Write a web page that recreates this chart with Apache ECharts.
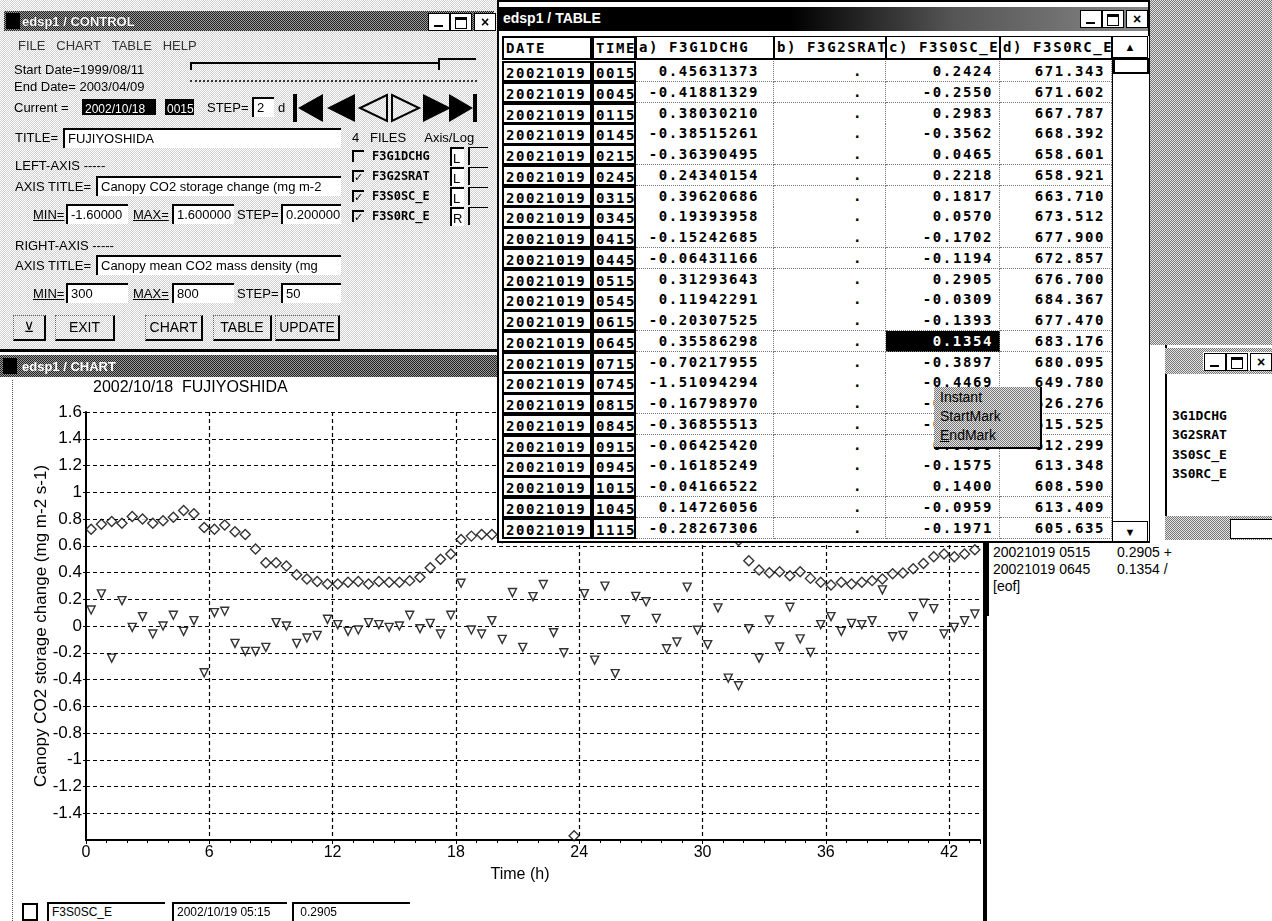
<!DOCTYPE html>
<html><head><meta charset="utf-8">
<script src="https://cdn.jsdelivr.net/npm/echarts/dist/echarts.min.js"></script>
<style>
html,body{margin:0;padding:0;width:1272px;height:921px;overflow:hidden;background:#fff;font-family:"Liberation Sans",Arial,sans-serif;color:#000;}
#chart{position:absolute;left:0;top:0;width:1272px;height:921px;}
.a{position:absolute;white-space:nowrap;}
.dk{background:repeating-conic-gradient(#222 0 25%,#9a9a9a 0 50%) 0 0/2px 2px;}
.lt{background:repeating-conic-gradient(#d0d0d0 0 25%,#fff 0 50%) 0 0/2px 2px;}
.md{background:repeating-conic-gradient(#777 0 25%,#e4e4e4 0 50%) 0 0/2px 2px;}
.t13{font-size:13px;line-height:15px;}
.mono{font-family:"DejaVu Sans Mono",monospace;font-weight:bold;}
.fld{border-left:2px solid #000;border-top:2px solid #000;background:#fff;font-size:13px;line-height:17px;padding-left:3px;box-sizing:border-box;overflow:hidden;}
.btn{border-right:2px solid #000;border-bottom:2px solid #000;border-left:1px dotted #666;border-top:1px dotted #666;font-size:14px;line-height:22px;text-align:center;box-sizing:border-box;}
.cell{position:absolute;box-sizing:border-box;font-family:"DejaVu Sans Mono",monospace;font-weight:bold;font-size:14px;letter-spacing:1.6px;white-space:nowrap;overflow:hidden;}
.key{border:2px solid #000;background:#fff;padding-left:2px;}
.val{border-right:1px dotted #777;border-bottom:1px dotted #777;text-align:right;padding-right:6px;background:#fff;}
.cb{position:absolute;width:10px;height:10px;border-left:2px solid #000;border-top:2px solid #000;font-size:11px;line-height:10px;}
</style>
</head><body>
<div id="chart"></div>
<div id="ov"></div>
<script>
// ---------------- DATA ----------------
// time (h) from 2002/10/18 00:00, half-hourly (hh:15, hh:45)
const hours = [0.25,0.75,1.25,1.75,2.25,2.75,3.25,3.75,4.25,4.75,5.25,5.75,6.25,6.75,7.25,7.75,8.25,8.75,9.25,9.75,
  10.25,10.75,11.25,11.75,12.25,12.75,13.25,13.75,14.25,14.75,15.25,15.75,16.25,16.75,17.25,17.75,18.25,18.75,19.25,19.75,
  20.25,20.75,21.25,21.75,22.25,22.75,23.25,23.75,24.25,24.75,25.25,25.75,26.25,26.75,27.25,27.75,28.25,28.75,29.25,29.75,
  30.25,30.75,31.25,31.75,32.25,32.75,33.25,33.75,34.25,34.75,35.25,35.75,36.25,36.75,37.25,37.75,38.25,38.75,39.25,39.75,
  40.25,40.75,41.25,41.75,42.25,42.75,43.25];
// F3S0SC_E : canopy CO2 storage change (mg m-2 s-1), left axis
const f3s0sc = [0.12,0.24,-0.24,0.19,-0.01,0.07,-0.06,0.00,0.08,-0.04,0.04,-0.35,0.10,0.11,-0.13,-0.19,-0.19,-0.16,0.025,0.00,
  -0.13,-0.09,-0.07,0.05,0.01,-0.04,-0.03,0.025,0.01,-0.01,0.00,0.08,-0.02,0.02,-0.06,0.08,0.32,-0.03,-0.06,0.04,
  -0.10,0.25,-0.16,0.22,0.31,-0.05,-0.20,null,0.2424,-0.2550,0.2983,-0.3562,0.0465,0.2218,0.1817,0.0570,-0.1702,-0.1194,0.2905,-0.0309,
  -0.1393,0.1354,-0.3897,-0.4469,-0.0200,-0.2400,0.0450,-0.1575,0.1400,-0.0959,-0.1971,0.01,0.07,-0.04,0.02,0.01,0.04,0.27,-0.08,-0.07,
  0.07,0.17,0.13,-0.06,-0.01,0.04,0.09];
// F3S0RC_E : canopy mean CO2 mass density (mg m-3), right axis
const f3s0rc = [663,669,672,670,678,675,670,673,677,685,681,665,663,668,660,657,640,624,624,620,
  610,605,602,599,599,601,602,599,602,601,601,603,607,618,628,634,651,655,657,657,
  653,658,662,666,668,670,669,305,671.343,671.602,667.787,668.392,658.601,658.921,663.710,673.512,677.900,672.857,676.700,684.367,
  677.470,683.176,680.095,649.780,626.276,615.525,612.299,613.348,608.590,613.409,605.635,601,598,601,599,601,603,605,611,612,
  617,623,631,634,631,634,639];
// table window rows (2002/10/19)
const tableDate = '20021019';
const tableTimes = ['0015','0045','0115','0145','0215','0245','0315','0345','0415','0445','0515','0545','0615','0645','0715','0745','0815','0845','0915','0945','1015','1045','1115'];
const tableFirstIndex = 48;
const f3g1dchg = [0.45631373,-0.41881329,0.38030210,-0.38515261,-0.36390495,0.24340154,0.39620686,0.19393958,-0.15242685,-0.06431166,
  0.31293643,0.11942291,-0.20307525,0.35586298,-0.70217955,-1.51094294,-0.16798970,-0.36855513,-0.06425420,-0.16185249,-0.04166522,0.14726056,-0.28267306];
const tableHeaders = ['DATE','TIME','a) F3G1DCHG','b) F3G2SRAT','c) F3S0SC_E','d) F3S0RC_E'];
const fileNames = ['F3G1DCHG','F3G2SRAT','F3S0SC_E','F3S0RC_E'];
const fileChecked = [false,true,true,true];
const fileAxis = ['L','L','L','R'];
const chartTitle = '2002/10/18  FUJIYOSHIDA';
const leftAxisTitle = 'Canopy CO2 storage change (mg m-2 s-1)';
const rightAxisTitle = 'Canopy mean CO2 mass density (mg';
const leftMin = -1.6, leftMax = 1.6, leftStep = 0.2;
const rightMin = 300, rightMax = 800, rightStep = 50;
const xMin = 0, xMax = 43.5, xStep = 6;
const eofLines = [['20021019 0515','0.2905 +'],['20021019 0645','0.1354 /']];
const menuItems = ['Instant','StartMark','EndMark'];

// ---------------- CHART ----------------
const FONT = '"Liberation Sans", Arial, sans-serif';
const scData = [], rcData = [];
hours.forEach((h,i)=>{ if(f3s0sc[i]!==null) scData.push([h,f3s0sc[i]]); if(f3s0rc[i]!==null) rcData.push([h,f3s0rc[i]]); });
const grid = {type:[4,3], color:'#000', width:1.2};
const chart = echarts.init(document.getElementById('chart'), null, {renderer:'canvas'});
chart.setOption({
  animation:false,
  backgroundColor:'#fff',
  title:{text:chartTitle, left:88, top:375, textStyle:{fontFamily:FONT, fontSize:16, fontWeight:'normal', color:'#000'}},
  grid:{left:86, top:412, width:894, height:428, show:false},
  xAxis:{type:'value', min:xMin, max:xMax, interval:xStep,
    name:'Time (h)', nameLocation:'middle', nameGap:27, nameMoveOverlap:false,
    nameTextStyle:{fontFamily:FONT, fontSize:16, color:'#000', padding:[0,26,0,0]},
    axisLine:{onZero:false, lineStyle:{color:'#000', width:2}},
    axisTick:{show:true, length:4, lineStyle:{color:'#000'}},
    minorTick:{show:true, splitNumber:6, length:3, lineStyle:{color:'#000'}},
    axisLabel:{showMaxLabel:false, fontFamily:FONT, fontSize:16, color:'#000', margin:5},
    splitLine:{show:true, showMinLine:false, showMaxLine:false, lineStyle:grid}},
  yAxis:[{type:'value', min:leftMin, max:leftMax, interval:leftStep, position:'left',
    name:leftAxisTitle, nameLocation:'middle', nameGap:36, nameRotate:90, nameMoveOverlap:false,
    nameTextStyle:{fontFamily:FONT, fontSize:17, color:'#000'},
    axisLine:{show:true, onZero:false, lineStyle:{color:'#000', width:2}},
    axisTick:{show:true, length:3, lineStyle:{color:'#000'}},
    axisLabel:{showMinLabel:false, fontFamily:FONT, fontSize:17, color:'#000', margin:4},
    splitLine:{show:true, showMinLine:false, lineStyle:grid}},
   {type:'value', min:rightMin, max:rightMax, interval:rightStep, position:'right', show:false, splitLine:{show:false}}],
  series:[
    {name:'F3S0RC_E', type:'scatter', yAxisIndex:1, data:rcData, symbol:'diamond', symbolSize:[10,10],
      itemStyle:{color:'#fff', borderColor:'#000', borderWidth:1.4}},
    {name:'F3S0SC_E', type:'scatter', yAxisIndex:0, data:scData, symbol:'triangle', symbolRotate:180, symbolSize:[8,8],
      itemStyle:{color:'#fff', borderColor:'#000', borderWidth:1.4}}
  ]
});

// ---------------- WINDOW CHROME (layout only) ----------------
let H = '';
function el(cls, x, y, w, h, html, style){ H += `<div class="a ${cls||''}" style="left:${x}px;top:${y}px;${w!=null?'width:'+w+'px;':''}${h!=null?'height:'+h+'px;':''}${style||''}">${html||''}</div>`; }
function txt(x, y, s, style){ el('t13', x, y, null, null, s, style||''); }
function winBtns(x, y){ el('', x, y, 20, 16, '<div style="position:absolute;left:5px;bottom:3px;width:9px;height:2px;background:#000"></div>', 'background:#fff;border:1px solid #000;');
  el('', x+22, y, 20, 16, '<div style="position:absolute;left:4px;top:3px;width:10px;height:8px;border:1px solid #000;border-top:3px solid #000"></div>', 'background:#fff;border:1px solid #000;');
  el('', x+46, y, 20, 16, '<div style="text-align:center;font-size:14px;line-height:16px;font-weight:bold">×</div>', 'background:#fff;border:1px solid #000;'); }

// control window
el('lt', 0, 0, 497, 352, '', 'border-bottom:3px solid #000;box-sizing:border-box;');
el('dk', 4, 11, 490, 20, '', '');
el('', 6, 13, 14, 16, '', 'background:#000;');
txt(22, 14, 'edsp1 / CONTROL', 'color:#fff;font-weight:bold;text-shadow:0 0 1px #000;');
winBtns(428, 13);
txt(18, 38, 'FILE&nbsp;&nbsp;&nbsp;CHART&nbsp;&nbsp;&nbsp;TABLE&nbsp;&nbsp;&nbsp;HELP', 'color:#333;');
txt(14, 62, 'Start Date=1999/08/11');
txt(14, 79, 'End Date= 2003/04/09');
el('', 190, 62, 248, 6, '', 'border-top:2px solid #000;border-left:2px solid #000;');
el('', 438, 58, 36, 10, '', 'border-top:2px solid #000;border-left:2px solid #000;');
el('', 190, 80, 287, 2, '', 'border-top:2px dotted #333;');
txt(14, 100, 'Current =');
el('', 82, 99, 74, 16, '<span style="color:#fff;font-size:12px;line-height:16px;padding-left:3px">2002/10/18</span>', 'background:#000;');
el('', 165, 99, 29, 16, '<span style="color:#fff;font-size:12px;line-height:16px;padding-left:2px">0015</span>', 'background:#000;');
txt(207, 100, 'STEP=');
el('fld', 252, 97, 22, 20, '2');
txt(278, 100, 'd');
el('', 293, 93, 185, 30, '<svg width="185" height="30"><rect x="0" y="1" width="4" height="28"/><polygon points="30,1 5,15 30,29"/><polygon points="62,1 34,15 62,29"/><polygon points="94,2 67,15 94,28" fill="none" stroke="#000" stroke-width="2"/><polygon points="99,2 126,15 99,28" fill="none" stroke="#000" stroke-width="2"/><polygon points="130,1 158,15 130,29"/><polygon points="156,1 180,15 156,29"/><rect x="180" y="1" width="4" height="28"/></svg>');
txt(15, 130, 'TITLE=');
el('fld', 63, 128, 278, 20, 'FUJIYOSHIDA');
txt(352, 130, '4&nbsp;&nbsp;&nbsp;FILES&nbsp;&nbsp;&nbsp;&nbsp;&nbsp;Axis/Log');
fileNames.forEach((f,i)=>{ const y = 150 + i*20;
  H += `<div class="cb" style="left:352px;top:${y}px">${fileChecked[i]?'✓':''}</div>`;
  el('mono', 372, y-1, null, null, f, 'font-size:12px;line-height:15px;');
  el('', 450, y-3, 12, 17, `<span style="font-size:13px;line-height:17px;padding-left:1px">${fileAxis[i]}</span>`, 'border-left:2px solid #000;border-top:2px solid #000;background:#fff;');
  el('', 468, y-3, 18, 17, '', 'border-left:2px solid #000;border-top:1px solid #000;');
});
txt(15, 158, 'LEFT-AXIS -----');
txt(15, 179, 'AXIS TITLE=');
el('fld', 96, 176, 245, 20, 'Canopy CO2 storage change (mg m-2');
txt(33, 207, '<u>MIN=</u>');
el('fld', 66, 204, 62, 20, String(leftMin.toFixed(5)));
txt(133, 207, '<u>MAX=</u>');
el('fld', 172, 204, 62, 20, leftMax.toFixed(6));
txt(237, 207, 'STEP=');
el('fld', 281, 204, 60, 20, leftStep.toFixed(6));
txt(15, 238, 'RIGHT-AXIS -----');
txt(15, 258, 'AXIS TITLE=');
el('fld', 96, 255, 245, 20, rightAxisTitle);
txt(33, 286, '<u>MIN=</u>');
el('fld', 66, 283, 62, 20, String(rightMin));
txt(133, 286, '<u>MAX=</u>');
el('fld', 172, 283, 62, 20, String(rightMax));
txt(237, 286, 'STEP=');
el('fld', 281, 283, 60, 20, String(rightStep));
el('btn', 13, 315, 33, 26, '⊻');
el('btn', 55, 315, 60, 26, 'EXIT');
el('btn', 145, 315, 58, 26, 'CHART');
el('btn', 213, 315, 59, 26, 'TABLE');
el('btn', 275, 315, 65, 26, 'UPDATE');

// chart window chrome
el('dk', 0, 355, 985, 22, '', '');
el('', 3, 358, 14, 16, '', 'background:#000;');
txt(22, 359, 'edsp1 / CHART', 'color:#fff;font-weight:bold;');
el('', 983, 353, 4, 568, '', 'background:#000;');
el('', 12, 380, 1, 541, '', 'border-left:1px dotted #555;');
el('', 22, 903, 12, 14, '', 'border:2px solid #000;background:#fff;');
el('fld', 47, 902, 118, 19, 'F3S0SC_E', 'font-size:12px;');
el('fld', 172, 902, 115, 19, '2002/10/19 05:15', 'font-size:12px;');
el('fld', 292, 902, 118, 19, '&nbsp;0.2905', 'font-size:12px;');

// right-hand area
el('md', 1150, 0, 122, 345, '', '');
el('', 1165, 345, 107, 195, '', 'background:#fff;border-left:2px solid #000;');
el('md', 1165, 348, 107, 26, '', '');
el('', 1203, 352, 68, 18, '', 'background:#fff;');
winBtns(1204, 353);
fileNames.forEach((f,i)=>{ el('mono', 1172, 408+i*19.3, null, null, f.slice(1), 'font-size:13px;line-height:15px;'); });
el('md', 1165, 516, 107, 24, '', '');
el('', 1230, 519, 42, 18, '', 'background:#fff;border:1px solid #000;');
el('', 987, 541, 285, 75, '', 'background:#fff;border-left:2px solid #000;');
eofLines.forEach((r,i)=>{ txt(993, 544+i*17, r[0], 'font-size:14px;line-height:16px;'); txt(1117, 544+i*17, r[1], 'font-size:14px;line-height:16px;'); });
txt(993, 578, '[eof]', 'font-size:14px;line-height:16px;');

// table window
el('', 497, 0, 653, 543, '', 'background:#fff;border:2px solid #000;box-sizing:border-box;');
el('', 499, 7, 649, 24, '', 'background:linear-gradient(90deg,#000 0,#000 45%,#555 70%,#888 100%);');
txt(503, 11, '<b>edsp1 / TABLE</b>', 'color:#fff;font-size:14px;');
winBtns(1080, 10);
const colX = [502,592,636,774,886,1000,1112];
const rowTop = 61, rowH = 20.75;
tableHeaders.forEach((hd,c)=>{ H += `<div class="cell key" style="left:${colX[c]}px;top:36px;width:${colX[c+1]-colX[c]}px;height:24px;line-height:20px;${c>1?'border-width:1px 1px 2px 1px;':''}">${hd}</div>`; });
tableTimes.forEach((t,r)=>{
  const y = rowTop + r*rowH, k = tableFirstIndex + r;
  const cells = [tableDate, t, f3g1dchg[r].toFixed(8), '.', f3s0sc[k].toFixed(4), f3s0rc[k].toFixed(3)];
  cells.forEach((v,c)=>{
    const cls = c<2 ? 'key' : 'val';
    const hl = (c===4 && t==='0645') ? 'background:#000;color:#fff;' : '';
    const pad = c===3 ? 'padding-right:22px;' : (c===2 ? 'padding-right:14px;' : '');
    H += `<div class="cell ${cls}" style="left:${colX[c]}px;top:${y}px;width:${colX[c+1]-colX[c]}px;height:${rowH+0.5}px;line-height:${rowH}px;${hl}${pad}">${v}</div>`;
  });
});
el('', 1112, 36, 36, 505, '', 'background:#fff;border-left:1px solid #000;');
el('', 1112, 36, 34, 20, '<div style="text-align:center;font-size:11px;line-height:20px">▲</div>', 'border:1px solid #000;');
el('', 1113, 58, 32, 12, '', 'border:2px solid #000;');
el('', 1112, 521, 34, 20, '<div style="text-align:center;font-size:11px;line-height:20px">▼</div>', 'border:1px solid #000;');

// context menu
el('md', 934, 387, 108, 62, '', 'border-right:2px solid #000;border-bottom:2px solid #000;box-sizing:border-box;');
menuItems.forEach((m,i)=>{ txt(940, 389+i*19, i===2?'<u>E</u>ndMark':m, 'font-size:14px;line-height:16px;'); });

document.getElementById('ov').innerHTML = H;
</script>
</body></html>
